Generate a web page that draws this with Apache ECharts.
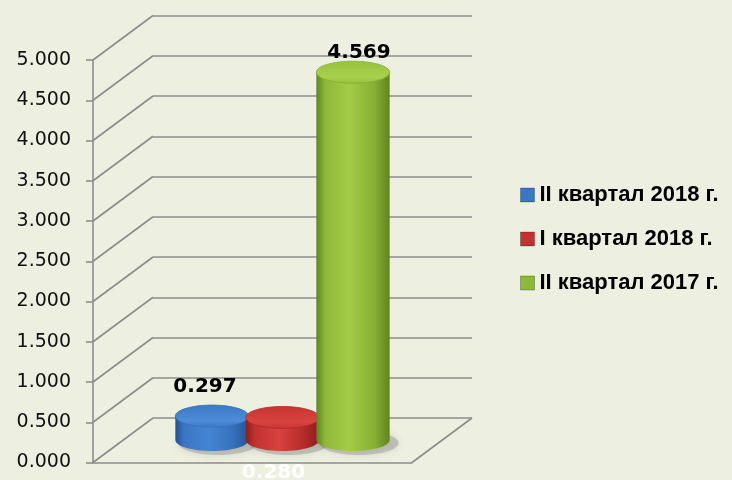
<!DOCTYPE html>
<html><head><meta charset="utf-8">
<script src="https://cdn.jsdelivr.net/npm/echarts@6/dist/echarts.min.js"></script>
<style>html,body{margin:0;padding:0;background:#EDF0E0}#c{width:732px;height:480px}</style>
</head><body><div id="c"></div>
<script>
// ---- data ----
const seriesNames = ['II квартал 2018 г.', 'I квартал 2018 г.', 'II квартал 2017 г.'];
const seriesValues = [0.297, 0.280, 4.569];
const valueLabels = ['0.297', '0.280', '4.569'];
const yTicks = [0, 0.5, 1, 1.5, 2, 2.5, 3, 3.5, 4, 4.5, 5];
const yMin = 0, yMax = 5, yStep = 0.5;

// ---- styles ----
const DEPTH_X = 60, DEPTH_Y = -44.5;
const GRID_LINE = '#8c8c8c';
const palettes = [
  {base:'#3A76C4', edge:'#24528F', mid:'#4585D3', right:'#3670BA', top:'#3C7AC8', topHi:'#4D8BD8'},
  {base:'#C0312F', edge:'#8A1E1C', mid:'#D8433F', right:'#B32B29', top:'#C8332F', topHi:'#D8443F'},
  {base:'#8DB83A', edge:'#5F8420', mid:'#A4CC46', right:'#86AE34', top:'#97C23E', topHi:'#A8D04C'}
];
const labelStyles = [
  {anchor:'top', dx:-7, dy:-29, color:'#000'},
  {anchor:'base', dx:-9, dy:33, color:'#ffffff'},
  {anchor:'top', dx:6, dy:-19, color:'#000'}
];

function halfEllipseLower(cx, cy, rx, ry){
  const k = 0.5523;
  return 'C' + (cx-rx) + ',' + (cy+k*ry) + ' ' + (cx-k*rx) + ',' + (cy+ry) + ' ' + cx + ',' + (cy+ry) +
         ' C' + (cx+k*rx) + ',' + (cy+ry) + ' ' + (cx+rx) + ',' + (cy+k*ry) + ' ' + (cx+rx) + ',' + cy;
}
function ellipsePath(cx, cy, rx, ry){
  const k = 0.5523;
  return 'M' + (cx-rx) + ',' + cy + ' ' + halfEllipseLower(cx, cy, rx, ry) +
    ' C' + (cx+rx) + ',' + (cy-k*ry) + ' ' + (cx+k*rx) + ',' + (cy-ry) + ' ' + cx + ',' + (cy-ry) +
    ' C' + (cx-k*rx) + ',' + (cy-ry) + ' ' + (cx-rx) + ',' + (cy-k*ry) + ' ' + (cx-rx) + ',' + cy + ' Z';
}

function makeCylinder(si){
  return function(params, api){
    const idx = api.value(0), val = api.value(1);
    const top = api.coord([idx, val]);
    const base = api.coord([idx, 0]);
    const band = api.size([1, 0])[0];
    const rx = band * 0.52, ry = 11;
    const cx = top[0];
    const p = palettes[si];
    const ls = labelStyles[si];
    const ly = (ls.anchor === 'top' ? top[1] : base[1]) + ls.dy;
    const bodyPath = 'M' + (cx-rx) + ',' + top[1] + ' L' + (cx-rx) + ',' + base[1] + ' ' +
      halfEllipseLower(cx, base[1], rx, ry) + ' L' + (cx+rx) + ',' + top[1] + ' Z';
    return {
      type: 'group',
      children: [
        {type:'path', shape:{pathData: ellipsePath(cx+6, base[1]+3, rx+3, ry+1)},
         style:{fill:'rgba(110,110,110,0.3)', shadowBlur:8, shadowColor:'rgba(80,80,80,0.5)'}},
        {type:'path', shape:{pathData: bodyPath},
         style:{fill: new echarts.graphic.LinearGradient(0,0,1,0,[
           {offset:0, color:p.edge},{offset:0.12, color:p.base},{offset:0.45, color:p.mid},
           {offset:0.8, color:p.right},{offset:1, color:p.edge}])}},
        {type:'path', shape:{pathData: ellipsePath(cx, top[1], rx, ry)},
         style:{fill: new echarts.graphic.LinearGradient(0,0,0,1,[
           {offset:0, color:p.top},{offset:0.7, color:p.topHi},{offset:1, color:p.top}]),
           stroke:p.right, lineWidth:0.8}},
        {type:'text', x: cx + ls.dx, y: ly,
         style:{text: valueLabels[si], fill: ls.color, font:'bold 20px "DejaVu Sans"',
                align:'center', verticalAlign:'middle'}}
      ]
    };
  };
}

const frameData = yTicks.map(v => [0, v]).concat([[1, 0]]);

const series = [
  {
    type:'custom', name:'frame', xAxisIndex:0, yAxisIndex:0, silent:true, z:1,
    data: frameData,
    renderItem: function(params, api){
      const p = api.coord([api.value(0), api.value(1)]);
      return {type:'line', shape:{x1:p[0], y1:p[1], x2:p[0]+DEPTH_X, y2:p[1]+DEPTH_Y},
              style:{stroke:GRID_LINE, lineWidth:1.6}};
    }
  }
];
seriesNames.forEach((name, i) => {
  series.push({
    type:'custom', name:name, xAxisIndex:2, yAxisIndex:2, z:5,
    itemStyle:{color: palettes[i].base},
    encode:{x:0, y:1},
    data:[[i, seriesValues[i]]],
    renderItem: makeCylinder(i)
  });
});

const chart = echarts.init(document.getElementById('c'));
chart.setOption({
  animation:false,
  backgroundColor:'#EDF0E0',
  legend:{
    orient:'vertical', left:520, top:184, padding:0, itemWidth:14, itemHeight:14, itemGap:22,
    icon:'rect', data: seriesNames,
    itemStyle:{borderColor:'rgba(0,0,0,0.25)', borderWidth:1},
    textStyle:{fontFamily:'Liberation Sans', fontWeight:'bold', fontSize:22, color:'#000'}
  },
  grid:[
    {left:93, top:60, width:319, height:402.5},
    {left:153, top:15.5, width:319, height:402.5},
    {left:176.75, top:37.5, width:211.5, height:402.5}
  ],
  xAxis:[
    {gridIndex:0, type:'value', min:0, max:1, axisLine:{show:true, onZero:false, lineStyle:{color:GRID_LINE, width:1.6}},
     axisTick:{show:false}, axisLabel:{show:false}, splitLine:{show:false}},
    {gridIndex:1, type:'value', min:0, max:1, show:false},
    {gridIndex:2, type:'category', data:[0,1,2], show:false}
  ],
  yAxis:[
    {gridIndex:0, type:'value', min:yMin, max:yMax, interval:yStep,
     axisLine:{show:true, lineStyle:{color:GRID_LINE, width:1.6}},
     axisTick:{show:true, length:7, lineStyle:{color:GRID_LINE, width:1.6}},
     axisLabel:{margin:22, color:'#111', fontFamily:'DejaVu Sans', fontSize:19,
       formatter: v => v.toFixed(3)},
     splitLine:{show:false}},
    {gridIndex:1, type:'value', min:yMin, max:yMax, interval:yStep,
     axisLine:{show:false}, axisTick:{show:false}, axisLabel:{show:false},
     splitLine:{show:true, lineStyle:{color:GRID_LINE, width:1.6}}},
    {gridIndex:2, type:'value', min:yMin, max:yMax, show:false}
  ],
  series: series
});
</script></body></html>
